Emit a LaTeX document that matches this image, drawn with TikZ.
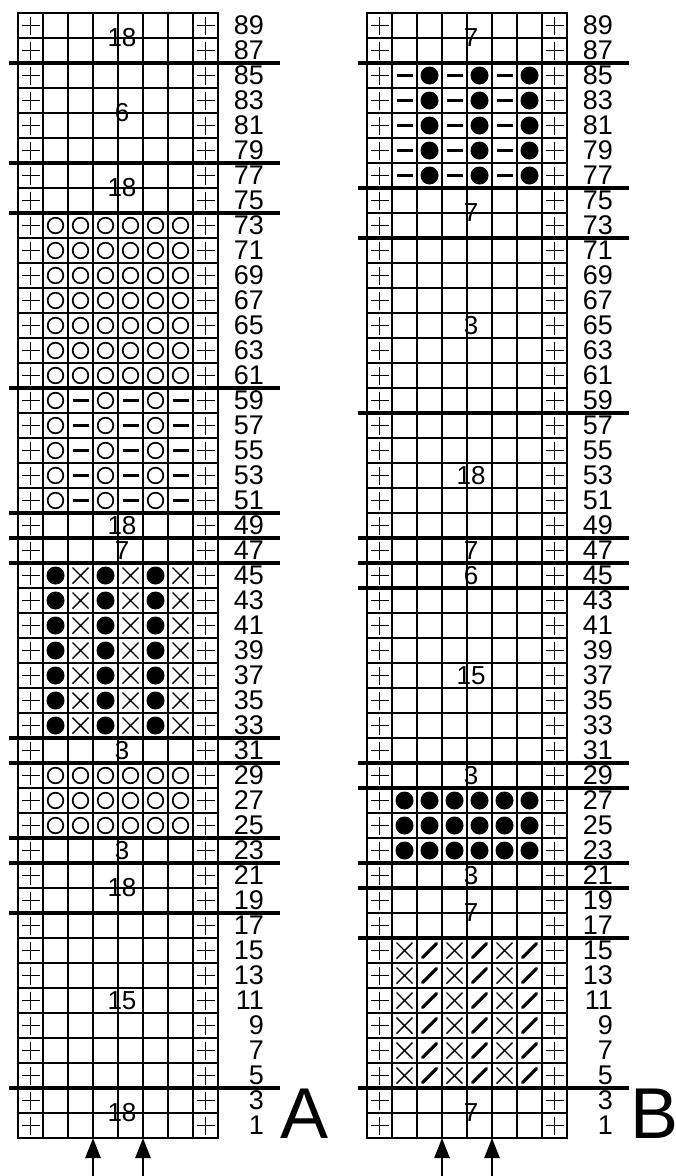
\documentclass[tikz,border=0pt]{standalone}
\usepackage{fontspec}
\setmainfont{Liberation Sans}
\usepackage{tikz}
\usetikzlibrary{arrows.meta}

% stitch symbols, #1 = column (0..7), #2 = row from top (0..44)
\newcommand{\stEdge}[2]{\draw[sym] ({12.5+25*(#1)-9},{12.5+25*(#2)}) -- ({12.5+25*(#1)+9},{12.5+25*(#2)})
  ({12.5+25*(#1)},{12.5+25*(#2)-9}) -- ({12.5+25*(#1)},{12.5+25*(#2)+9});}
\newcommand{\stOpen}[2]{\draw[line width=1.7pt] ({12.5+25*(#1)},{12.5+25*(#2)}) circle[radius=7.8];}
\newcommand{\stDot}[2]{\fill ({12.5+25*(#1)},{12.5+25*(#2)}) circle[radius=9];}
\newcommand{\stDash}[2]{\draw[line width=3.2pt] ({12.5+25*(#1)-8},{12.5+25*(#2)}) -- ({12.5+25*(#1)+8},{12.5+25*(#2)});}
\newcommand{\stCross}[2]{\draw[sym] ({12.5+25*(#1)-8},{12.5+25*(#2)-8}) -- ({12.5+25*(#1)+8},{12.5+25*(#2)+8})
  ({12.5+25*(#1)-8},{12.5+25*(#2)+8}) -- ({12.5+25*(#1)+8},{12.5+25*(#2)-8});}
\newcommand{\stSlash}[2]{\draw[line width=3.2pt,line cap=round] ({12.5+25*(#1)-7},{12.5+25*(#2)+7}) -- ({12.5+25*(#1)+7},{12.5+25*(#2)-7});}

% grid, 8 columns x 45 rows, #1 = block separators, #2 = name prefix
\newcommand{\chartFrame}[2]{
  \foreach \i in {1,...,44} \draw[gridline] (0,25*\i) -- (200,25*\i);
  \foreach \j in {1,...,7} \draw[gridline] (25*\j,0) -- (25*\j,1125);
  \foreach \i in {5,15,25,35} \draw[tenline] (0,25*\i) -- (200,25*\i);
  \draw[border] (0,0) rectangle (200,1125);
  \foreach \i in {#1} \draw[blockline] (-9,25*\i) -- (262,25*\i);
  \foreach \i in {0,...,44} {\stEdge{0}{\i} \stEdge{7}{\i}}
  \foreach \i in {0,...,44} {
    \pgfmathtruncatemacro\n{89-2*\i}
    \node[rownum] (#2row\n) at (246,12.5+25*\i) {\n};
  }
}

\begin{document}
\begin{tikzpicture}[x=1pt,y=-1pt,
  gridline/.style={line width=1.1pt},
  tenline/.style={line width=2pt},
  blockline/.style={line width=4pt},
  border/.style={line width=2pt},
  sym/.style={line width=1.4pt},
  rownum/.style={anchor=east,inner sep=0pt,font=\fontsize{27}{27}\selectfont},
  blocklbl/.style={inner sep=0pt,font=\fontsize{26}{26}\selectfont},
  chartlbl/.style={anchor=base west,inner sep=0pt,font=\fontsize{72}{72}\selectfont},
  uparrow/.style={line width=2.5pt,-{Triangle[width=15pt,length=20pt]}}]
\useasboundingbox (0,0) rectangle (676,1176);

% ===== Chart A =====
\begin{scope}[shift={(18,13)}]
\chartFrame{2,6,8,15,20,21,22,29,30,33,34,36,43}{A}

% stitch blocks
\foreach \i in {8,...,14} \foreach \c in {1,...,6} {\stOpen{\c}{\i}}
\foreach \i in {15,...,19} \foreach \c in {1,3,5} {\stOpen{\c}{\i} \stDash{\c+1}{\i}}
\foreach \i in {22,...,28} \foreach \c in {1,3,5} {\stDot{\c}{\i} \stCross{\c+1}{\i}}
\foreach \i in {30,...,32} \foreach \c in {1,...,6} {\stOpen{\c}{\i}}

% repeat counts
\node[blocklbl] (a1) at (104,25) {18};
\node[blocklbl] (a2) at (104,100) {6};
\node[blocklbl] (a3) at (104,175) {18};
\node[blocklbl] (a4) at (104,512.5) {18};
\node[blocklbl] (a5) at (104,537.5) {7};
\node[blocklbl] (a6) at (104,737.5) {3};
\node[blocklbl] (a7) at (104,837.5) {3};
\node[blocklbl] (a8) at (104,875) {18};
\node[blocklbl] (a9) at (104,987.5) {15};
\node[blocklbl] (a10) at (104,1100) {18};

\node[chartlbl] (labA) at (262,1125) {A};

% centre arrows
\coordinate (aL) at (75,1125);
\coordinate (aR) at (125,1125);
\coordinate (aLs) at (75,1163);
\coordinate (aRs) at (125,1163);
\draw[uparrow] (aLs) -- (aL);
\draw[uparrow] (aRs) -- (aR);
\end{scope}

% ===== Chart B =====
\begin{scope}[shift={(367,13)}]
\chartFrame{2,7,9,16,21,22,23,30,31,34,35,37,43}{B}

% stitch blocks
\foreach \i in {2,...,6} \foreach \c in {1,3,5} {\stDash{\c}{\i} \stDot{\c+1}{\i}}
\foreach \i in {31,...,33} \foreach \c in {1,...,6} {\stDot{\c}{\i}}
\foreach \i in {37,...,42} \foreach \c in {1,3,5} {\stCross{\c}{\i} \stSlash{\c+1}{\i}}

% repeat counts
\node[blocklbl] (b1) at (104,25) {7};
\node[blocklbl] (b2) at (104,200) {7};
\node[blocklbl] (b3) at (104,312.5) {3};
\node[blocklbl] (b4) at (104,462.5) {18};
\node[blocklbl] (b5) at (104,537.5) {7};
\node[blocklbl] (b6) at (104,562.5) {6};
\node[blocklbl] (b7) at (104,662.5) {15};
\node[blocklbl] (b8) at (104,762.5) {3};
\node[blocklbl] (b9) at (104,862.5) {3};
\node[blocklbl] (b10) at (104,900) {7};
\node[blocklbl] (b11) at (104,1100) {7};

\node[chartlbl] (labB) at (263,1125) {B};

% centre arrows
\coordinate (bL) at (75,1125);
\coordinate (bR) at (125,1125);
\coordinate (bLs) at (75,1163);
\coordinate (bRs) at (125,1163);
\draw[uparrow] (bLs) -- (bL);
\draw[uparrow] (bRs) -- (bR);
\end{scope}
\end{tikzpicture}
\end{document}
